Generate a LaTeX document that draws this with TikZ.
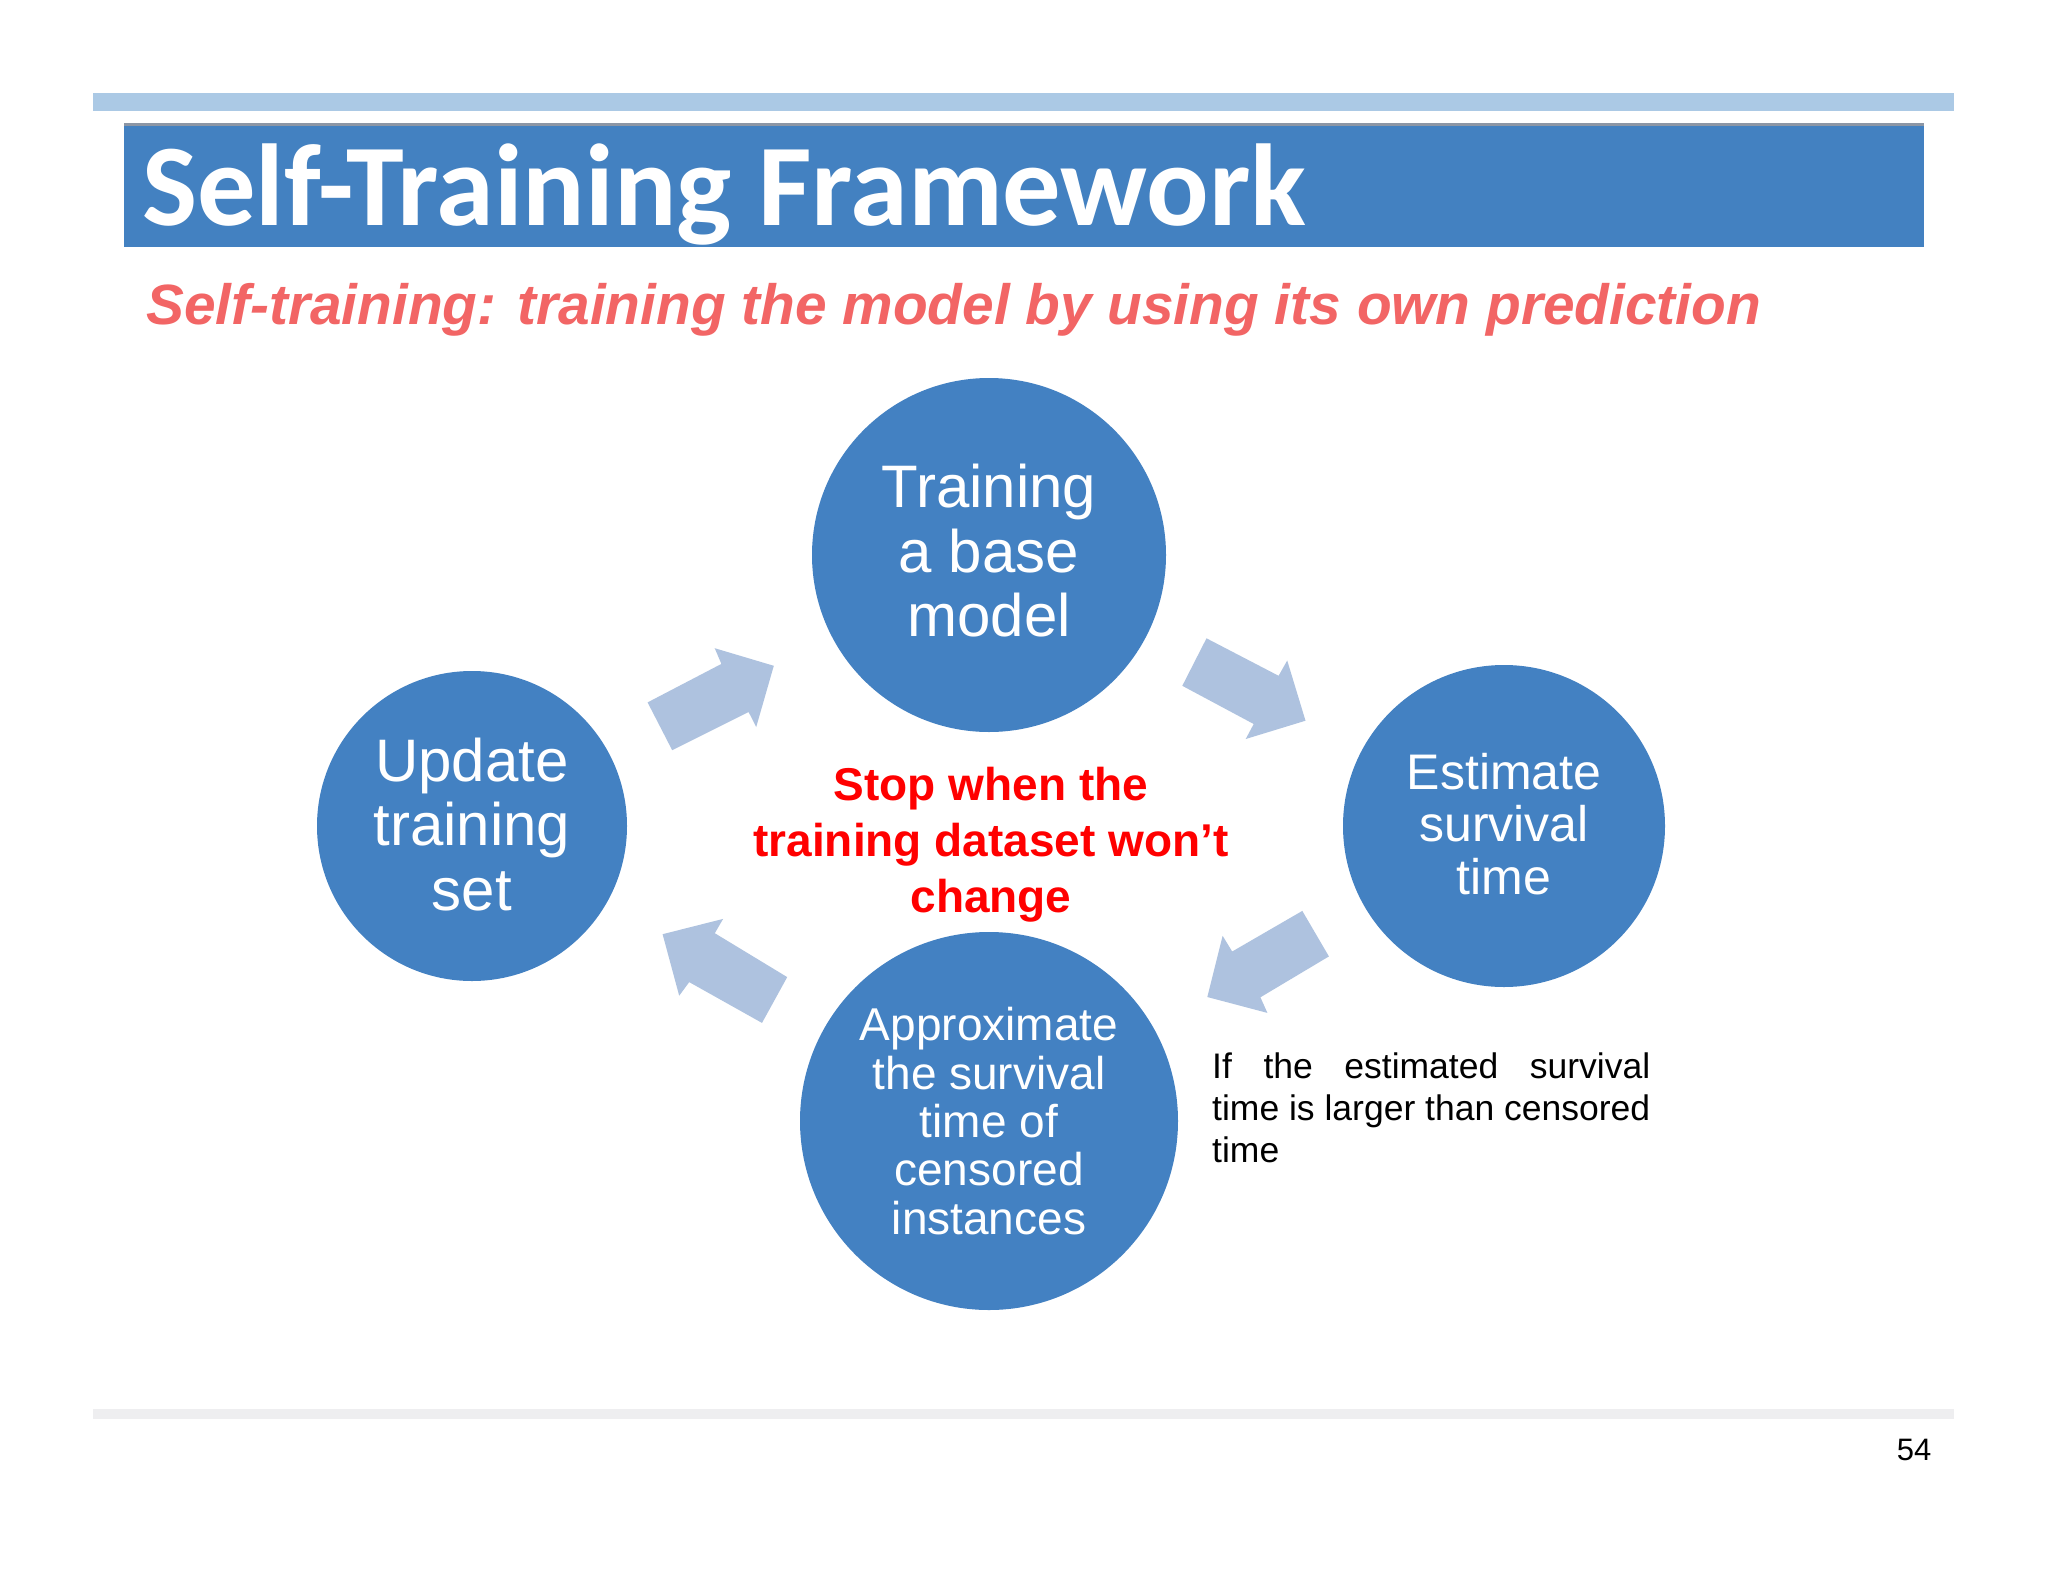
\documentclass[tikz,border=0pt]{standalone}
\usepackage{fontspec}
\setmainfont{Liberation Sans}
\newfontfamily\titlefont{Carlito}
\definecolor{topbar}{RGB}{171,201,229}
\definecolor{titleblue}{RGB}{67,129,193}
\definecolor{circleblue}{RGB}{67,129,194}
\definecolor{arrowblue}{RGB}{174,194,223}
\definecolor{subred}{RGB}{242,101,101}
\definecolor{stopred}{RGB}{255,0,0}
\definecolor{footline}{RGB}{238,238,240}
\newcommand{\liftdepth}[1]{\rule[-#1]{0pt}{0pt}}
\tikzset{
  stage/.style={circle, fill=circleblue, draw=none, inner sep=0pt, align=center, text=white},
  blockarrow/.style={fill=arrowblue, draw=none},
}
\begin{document}
\begin{tikzpicture}[x=1pt,y=-1pt]
\useasboundingbox (0,0) rectangle (2048,1582);
\fill[white] (0,0) rectangle (2048,1582);
% header bars
\fill[topbar] (93,93) rectangle (1954,111);
\fill[titleblue] (124,123) rectangle (1924,247);
\draw[line width=3pt, color={rgb,255:red,140;green,150;blue,165}] (124,124.5) -- (1924,124.5);
\node[anchor=base west, inner sep=0pt, text=white, font=\titlefont\bfseries\fontsize{116.5}{140}\selectfont] (title) at (142,225) {Self-Training Framework};
\node[anchor=base west, inner sep=0pt, text=subred, font=\bfseries\itshape\fontsize{56.8}{68}\selectfont] (subtitle) at (146,324) {Self-training: training the model by using its own prediction};
% stages
\node[stage, minimum size=354pt, font=\fontsize{60}{64.5}\selectfont] (train) at (989,555) {Training\\a base\\model\liftdepth{9pt}};
\node[stage, minimum size=322pt, font=\fontsize{50}{52.5}\selectfont] (estimate) at (1504,826) {Estimate\\survival\\time\liftdepth{5pt}};
\node[stage, minimum size=378pt, font=\fontsize{46}{48.3}\selectfont] (approx) at (989,1121) {Approximate\\the survival\\time of\\censored\\instances};
\node[stage, minimum size=310pt, font=\fontsize{60}{64.5}\selectfont] (update) at (472,826) {Update\\training\\set\liftdepth{4pt}};
% block arrows
\fill[blockarrow] (647.6,702.4) -- (721.4,663.9) -- (714.7,648.2) -- (773.8,665.8) -- (756.2,727) -- (748.6,712) -- (672.2,750.2) -- cycle;
\fill[blockarrow] (1206.5,638.3) -- (1278.6,675.8) -- (1287.2,660.5) -- (1305.5,720.7) -- (1245.7,739) -- (1253.7,724) -- (1182.3,685.8) -- cycle;
\fill[blockarrow] (1302.3,910.9) -- (1232.2,951.5) -- (1222.6,935.8) -- (1207.3,997) -- (1267.4,1012.9) -- (1260.4,997.3) -- (1328.9,956.4) -- cycle;
\fill[blockarrow] (787.2,977.1) -- (714.8,933.2) -- (723.1,918.9) -- (662.6,934.2) -- (679.2,995.7) -- (689.2,982.1) -- (762,1022.9) -- cycle;
% center text
\node[align=center, inner sep=0pt, text=stopred, font=\bfseries\fontsize{46}{56}\selectfont] (stop) at (991,845) {Stop when the\\training dataset won’t\\change};
% note
\node[anchor=north west, inner sep=0pt, text width=438pt, align=justify, font=\fontsize{35.5}{42}\selectfont] (note) at (1212,1053) {If the estimated survival\linebreak time is larger than censored\linebreak time};
% footer
\fill[footline] (93,1409) rectangle (1954,1419);
\node[anchor=base, inner sep=0pt, font=\fontsize{31}{37}\selectfont] (page) at (1914,1460) {54};
\end{tikzpicture}
\end{document}
